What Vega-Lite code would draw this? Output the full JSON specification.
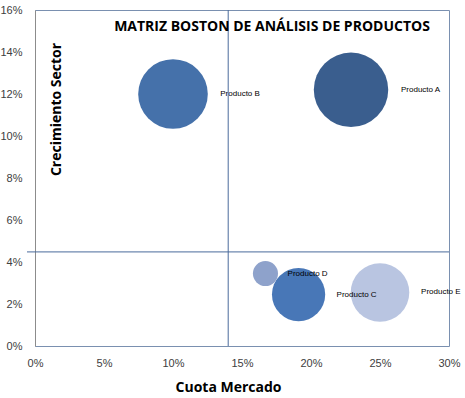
{
  "$schema": "https://vega.github.io/schema/vega-lite/v6.json",
  "width": 414,
  "height": 336,
  "autosize": "none",
  "padding": {"left": 35, "top": 10, "right": 16, "bottom": 52},
  "background": "white",
  "config": {
    "view": {"stroke": "#7A90B0", "strokeWidth": 1},
    "font": "Liberation Sans"
  },
  "title": {
    "text": "MATRIZ BOSTON DE ANÁLISIS DE PRODUCTOS",
    "font": "Open Sans",
    "fontSize": 14,
    "fontWeight": "bold",
    "color": "#000000",
    "anchor": "middle",
    "orient": "top",
    "dx": 30,
    "offset": -37,
    "baseline": "middle"
  },
  "datasets": {
    "productos": [
      {"producto": "Producto A", "cuota": 0.229, "crecimiento": 0.122, "ventas": 176},
      {"producto": "Producto B", "cuota": 0.100, "crecimiento": 0.120, "ventas": 154},
      {"producto": "Producto E", "cuota": 0.250, "crecimiento": 0.0255, "ventas": 109},
      {"producto": "Producto C", "cuota": 0.191, "crecimiento": 0.0245, "ventas": 90},
      {"producto": "Producto D", "cuota": 0.167, "crecimiento": 0.0345, "ventas": 20}
    ]
  },
  "layer": [
    {
      "data": {"name": "productos"},
      "mark": {"type": "circle", "opacity": 1},
      "encoding": {
        "x": {
          "field": "cuota", "type": "quantitative",
          "scale": {"domain": [0, 0.30], "nice": false},
          "axis": {
            "format": ".0%", "values": [0, 0.05, 0.10, 0.15, 0.20, 0.25, 0.30],
            "grid": false, "ticks": false, "domain": false, "labelFlush": false,
            "labelFont": "Liberation Sans", "labelFontSize": 11, "labelColor": "#404040",
            "labelPadding": 11,
            "title": "Cuota Mercado", "titleFont": "Open Sans", "titleFontSize": 14,
            "titleFontWeight": "bold", "titleColor": "#000000",
            "titleX": 193, "titleY": 41, "titleBaseline": "middle", "titleAnchor": "start", "titleAlign": "center"
          }
        },
        "y": {
          "field": "crecimiento", "type": "quantitative",
          "scale": {"domain": [0, 0.16], "nice": false},
          "axis": {
            "format": ".0%", "values": [0, 0.02, 0.04, 0.06, 0.08, 0.10, 0.12, 0.14, 0.16],
            "grid": false, "ticks": false, "domain": true, "domainColor": "#8C8C8C", "labelFlush": false,
            "labelFont": "Liberation Sans", "labelFontSize": 11, "labelColor": "#404040",
            "labelPadding": 13,
            "title": "Crecimiento Sector", "titleFont": "Open Sans", "titleFontSize": 14,
            "titleFontWeight": "bold", "titleColor": "#000000",
            "titleX": 21, "titleY": 99, "titleAngle": -90, "titleBaseline": "middle", "titleAlign": "center"
          }
        },
        "size": {
          "field": "ventas", "type": "quantitative",
          "scale": {"type": "linear", "domain": [0, 176], "range": [0, 5542], "zero": true},
          "legend": null
        },
        "color": {
          "field": "producto", "type": "nominal",
          "scale": {
            "domain": ["Producto A", "Producto B", "Producto C", "Producto D", "Producto E"],
            "range": ["#3A5E8E", "#4571AA", "#4877B7", "#8EA2CB", "#B9C5E1"]
          },
          "legend": null
        },
        "order": {"field": "ventas", "sort": "descending"}
      }
    },
    {
      "data": {"name": "productos"},
      "mark": {
        "type": "text", "align": "left", "baseline": "middle",
        "fontSize": 8, "font": "Liberation Sans", "color": "#000000",
        "dx": {"expr": "sqrt(datum.ventas * 5542 / 176 / PI) + 8"}
      },
      "encoding": {
        "x": {"field": "cuota", "type": "quantitative"},
        "y": {"field": "crecimiento", "type": "quantitative"},
        "text": {"field": "producto"}
      }
    },
    {
      "data": {"values": [{"cuota": 0.14}]},
      "mark": {"type": "rule", "color": "#4A6B9C", "strokeWidth": 1},
      "encoding": {
        "x": {"field": "cuota", "type": "quantitative"}
      }
    },
    {
      "data": {"values": [{"crecimiento": 0.0448}]},
      "mark": {"type": "rule", "color": "#4A6B9C", "strokeWidth": 1, "x": -8, "x2": {"expr": "width"}},
      "encoding": {
        "y": {"field": "crecimiento", "type": "quantitative"}
      }
    }
  ]
}
